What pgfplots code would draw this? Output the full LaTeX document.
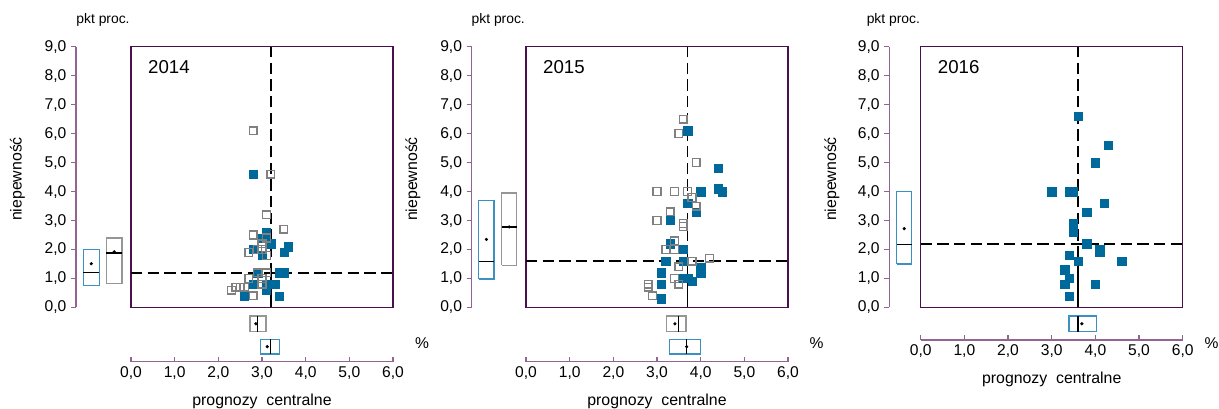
\documentclass[border=0pt]{standalone}
\usepackage{fontspec}
\setmainfont{Liberation Sans}
\usepackage{pgfplots}
\pgfplotsset{compat=1.18}
\definecolor{frameP}{RGB}{75,15,80}
\definecolor{axP}{RGB}{145,100,145}
\definecolor{ptB}{RGB}{0,105,155}
\definecolor{boxB}{RGB}{60,145,195}
\definecolor{ptG}{RGB}{128,128,128}
\definecolor{boxG}{RGB}{150,150,150}
\pgfplotsset{
  numfmt/.style={/pgf/number format/.cd, fixed, fixed zerofill, precision=1, use comma, assume math mode=true, /tikz/.cd, font=\fontsize{11.7}{13}\selectfont},
  mainbox/.style={scale only axis, width=196.5pt, height=195.6pt, xmin=0, xmax=6, ymin=0, ymax=9,
    ticks=none, axis line style={draw=frameP, line width=1.1pt}, anchor=south west, clip=false},
  leftax/.style={scale only axis, height=195.6pt, ymin=0, ymax=9, xmin=0,
    axis y line*=left, axis x line=none, xtick=\empty, ytick={0,1,...,9},
    tick align=outside, major tick length=3.75pt,
    axis line style={draw=axP, line width=0.9pt, -},
    every tick/.append style={draw=axP, line width=0.9pt},
    yticklabel style={numfmt}, anchor=south west, clip=false},
  botax/.style={scale only axis, width=196.5pt, xmin=0, xmax=6, ymin=0,
    axis x line*=bottom, axis y line=none, ytick=\empty, xtick={0,1,...,6},
    tick align=inside, major tick length=3.5pt,
    axis line style={draw=axP, line width=0.9pt, -},
    every tick/.append style={draw=axP, line width=0.9pt},
    xticklabel style={numfmt}, anchor=south west, clip=false},
  bluept/.style={only marks, mark=square*, mark size=3.1pt, mark options={draw=ptB, fill=ptB, line width=0.3pt}},
  greypt/.style={only marks, mark=square, mark size=2.9pt, mark options={draw=ptG, line width=1.05pt}},
  meanpt/.style={only marks, mark=*, mark size=1pt, black},
  medl/.style={black, line width=0.9pt},
  bxB/.style={draw=boxB, line width=1.1pt},
  bxG/.style={draw=boxG, line width=1.1pt},
  dline/.style={black, line width=1.2pt, dash pattern=on 8.5pt off 4pt},
  sline/.style={black, line width=1.2pt},
}
\newcommand{\ylab}{\fontsize{11.9}{13}\selectfont niepewność}
\newcommand{\xlab}{\fontsize{11.9}{13}\selectfont prognozy\hspace{0.55em}centralne}
\newcommand{\pkt}{\fontsize{10.4}{12}\selectfont pkt proc.}
\newcommand{\yr}[1]{\fontsize{14}{16}\selectfont #1}
\begin{document}
\begin{tikzpicture}
\useasboundingbox (0,0) rectangle (914.25pt,306.75pt);

%================ PANEL 2014 =================
\begin{axis}[leftax, at={(57pt,76.125pt)}, width=41.25pt, xmax=55]
  \addplot[bxB] coordinates {(7.3,0.76) (23.3,0.76) (23.3,2.0) (7.3,2.0) (7.3,0.76)};
  \addplot[medl] coordinates {(7.3,1.2) (23.3,1.2)};
  \addplot[meanpt] coordinates {(15.3,1.51)};
  \addplot[bxG] coordinates {(30.3,0.82) (46,0.82) (46,2.4) (30.3,2.4) (30.3,0.82)};
  \addplot[medl] coordinates {(30.3,1.88) (46,1.88)};
  \addplot[meanpt] coordinates {(38.2,1.92)};
\end{axis}
\begin{axis}[mainbox, at={(98.25pt,76.125pt)}]
  \addplot[bluept] coordinates {(2.8,4.6) (3.1,2.6) (3.0,2.4) (3.1,2.5) (3.2,2.2) (3.6,2.1) (2.8,2.0) (3.5,1.9) (3.0,1.8) (2.9,1.2) (3.4,1.2) (3.5,1.2) (2.8,0.8) (3.1,0.8) (3.3,0.8) (3.1,0.6) (2.6,0.4) (3.4,0.4)};
  \addplot[greypt] coordinates {(2.8,6.1) (3.2,4.6) (3.1,3.2) (3.5,2.7) (2.8,2.5) (3.1,2.4) (3.0,2.2) (2.7,1.9) (2.9,2.0) (3.0,2.0) (3.1,1.8) (2.9,1.2) (3.1,1.2) (2.7,1.0) (3.0,1.0) (3.0,0.8) (2.4,0.7) (2.5,0.7) (2.6,0.7) (2.3,0.6) (2.8,0.4)};
  \addplot[dline] coordinates {(3.2,0) (3.2,9)};
  \addplot[sline] coordinates {(3.2,0) (3.2,1.2)};
  \addplot[dline] coordinates {(0,1.2) (6,1.2)};
  \node at (axis description cs:0.145,0.922) {\yr{2014}};
\end{axis}
\begin{axis}[botax, at={(98.25pt,35.475pt)}, height=40.65pt, ymax=54.2]
  \addplot[bxG] coordinates {(2.72,30) (3.09,30) (3.09,45.7) (2.72,45.7) (2.72,30)};
  \addplot[medl] coordinates {(2.9,30) (2.9,45.7)};
  \addplot[meanpt] coordinates {(2.86,37.9)};
  \addplot[bxB] coordinates {(2.96,7.7) (3.40,7.7) (3.40,22.4) (2.96,22.4) (2.96,7.7)};
  \addplot[medl] coordinates {(3.2,7.7) (3.2,22.4)};
  \addplot[meanpt] coordinates {(3.12,15)};
  \node[anchor=base, yshift=-32.8pt] at (axis description cs:0.5,0) {\xlab};
\end{axis}

%================ PANEL 2015 =================
\begin{axis}[leftax, at={(353.775pt,76.125pt)}, width=40.725pt, xmax=54.3]
  \addplot[bxB] coordinates {(7,0.98) (22.3,0.98) (22.3,3.7) (7,3.7) (7,0.98)};
  \addplot[medl] coordinates {(7,1.6) (22.3,1.6)};
  \addplot[meanpt] coordinates {(14.7,2.35)};
  \addplot[bxG] coordinates {(30,1.45) (45,1.45) (45,3.95) (30,3.95) (30,1.45)};
  \addplot[medl] coordinates {(30,2.78) (45,2.78)};
  \addplot[meanpt] coordinates {(37.5,2.78)};
\end{axis}
\begin{axis}[mainbox, at={(394.5pt,76.125pt)}]
  \addplot[bluept] coordinates {(3.7,6.1) (4.4,4.8) (4.0,4.0) (4.4,4.1) (4.5,4.0) (3.7,3.6) (3.9,3.3) (3.3,3.0) (3.3,2.2) (3.6,2.0) (3.2,1.6) (3.6,1.6) (4.0,1.4) (4.0,1.2) (3.1,1.2) (3.6,1.0) (3.7,1.0) (3.8,0.9) (3.1,0.8) (3.1,0.3)};
  \addplot[greypt] coordinates {(3.6,6.5) (3.5,6.0) (3.9,5.0) (3.0,4.0) (3.4,4.0) (3.7,4.0) (3.8,3.8) (3.9,3.5) (3.3,3.3) (3.0,3.0) (3.6,2.9) (3.6,2.8) (3.4,2.3) (3.2,2.0) (3.4,2.0) (3.8,1.6) (4.2,1.7) (3.5,1.4) (3.4,1.0) (3.5,0.8) (2.8,0.8) (2.8,0.7) (2.9,0.4)};
  \addplot[dline] coordinates {(3.7,0) (3.7,9)};
  \addplot[sline] coordinates {(3.7,0) (3.7,1.6)};
  \addplot[dline] coordinates {(0,1.6) (6,1.6)};
  \node at (axis description cs:0.145,0.922) {\yr{2015}};
\end{axis}
\begin{axis}[botax, at={(394.5pt,35.475pt)}, height=40.65pt, ymax=54.2]
  \addplot[bxG] coordinates {(3.22,30) (3.66,30) (3.66,45.7) (3.22,45.7) (3.22,30)};
  \addplot[medl] coordinates {(3.5,30) (3.5,45.7)};
  \addplot[meanpt] coordinates {(3.41,37.9)};
  \addplot[bxB] coordinates {(3.28,7.7) (4.0,7.7) (4.0,22.4) (3.28,22.4) (3.28,7.7)};
  \addplot[medl] coordinates {(3.68,7.7) (3.68,22.4)};
  \addplot[meanpt] coordinates {(3.68,15)};
  \node[anchor=base, yshift=-32.8pt] at (axis description cs:0.5,0) {\xlab};
\end{axis}

%================ PANEL 2016 =================
\begin{axis}[leftax, at={(666.975pt,76.125pt)}, width=23.55pt, xmax=31.4]
  \addplot[bxB] coordinates {(7.4,1.5) (22.4,1.5) (22.4,4.0) (7.4,4.0) (7.4,1.5)};
  \addplot[medl] coordinates {(7.4,2.18) (22.4,2.18)};
  \addplot[meanpt] coordinates {(14.9,2.72)};
\end{axis}
\begin{axis}[mainbox, at={(690.525pt,76.125pt)}]
  \addplot[bluept] coordinates {(3.6,6.6) (4.3,5.6) (4.0,5.0) (3.0,4.0) (3.4,4.0) (3.5,4.0) (4.2,3.6) (3.8,3.3) (3.5,2.9) (3.5,2.6) (3.8,2.2) (4.1,2.0) (4.1,1.9) (3.4,1.8) (3.6,1.6) (4.6,1.6) (3.3,1.3) (3.4,1.0) (3.3,0.8) (4.0,0.8) (3.4,0.4)};
  \addplot[dline] coordinates {(3.6,0) (3.6,9)};
  \addplot[sline] coordinates {(3.6,0) (3.6,1.4)};
  \addplot[dline] coordinates {(0,2.2) (6,2.2)};
  \node at (axis description cs:0.145,0.922) {\yr{2016}};
\end{axis}
\begin{axis}[botax, at={(690.525pt,51.75pt)}, height=24.375pt, ymax=32.5]
  \addplot[bxB] coordinates {(3.40,8.3) (4.03,8.3) (4.03,24) (3.40,24) (3.40,8.3)};
  \addplot[medl] coordinates {(3.6,8.3) (3.6,24)};
  \addplot[meanpt] coordinates {(3.69,16.2)};
  \node[anchor=base, yshift=-32.8pt] at (axis description cs:0.5,0) {\xlab};
\end{axis}

%================ free labels =================
\node at (77.25pt,291.75pt) {\pkt};
\node at (373.7pt,291.75pt) {\pkt};
\node at (670pt,291.75pt) {\pkt};
\node[rotate=90] at (13.1pt,172.5pt) {\ylab};
\node[rotate=90] at (309.75pt,172.5pt) {\ylab};
\node[rotate=90] at (624pt,172.5pt) {\ylab};
\node at (316.5pt,49.5pt) {\fontsize{11.7}{13}\selectfont\%};
\node at (612.5pt,49.5pt) {\fontsize{11.7}{13}\selectfont\%};
\node at (908.6pt,49.5pt) {\fontsize{11.7}{13}\selectfont\%};
\end{tikzpicture}
\end{document}
